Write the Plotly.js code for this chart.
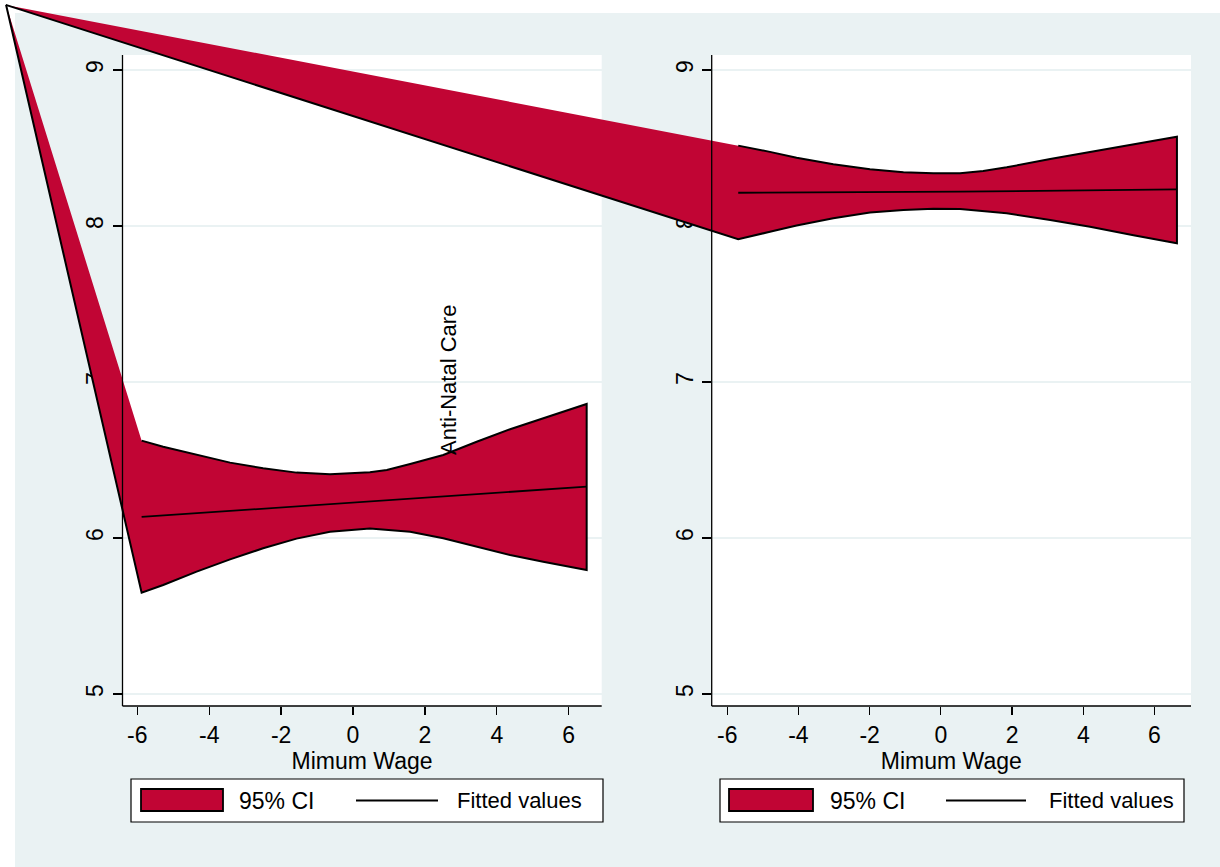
<!DOCTYPE html>
<html><head><meta charset="utf-8">
<script src="https://cdn.plot.ly/plotly-3.0.1.min.js"></script>
<style>html,body{margin:0;padding:0;background:#fff;overflow:hidden}</style>
</head><body><div id="chart" style="width:1220px;height:867px"></div>
<script>
// ---------------- data ----------------
const xTickVals = [-6, -4, -2, 0, 2, 4, 6];
const xTickLabels = ["-6", "-4", "-2", "0", "2", "4", "6"];
const yTickVals = [5, 6, 7, 8, 9];
const yTickLabels = ["5", "6", "7", "8", "9"];
const legendLabels = ["95% CI", "Fitted values"];
const xTitle = "Mimum Wage";
const yTitle = "Anti-Natal Care";

// left panel
const leftCiX     = [-5.88, -5.28, -4.35, -3.42, -2.50, -1.57, -0.64, 0.47, 0.94, 1.59, 2.51, 3.44, 4.37, 5.29, 6.50];
const leftCiUpper = [6.624, 6.585, 6.532, 6.483, 6.447, 6.419, 6.408, 6.421, 6.436, 6.474, 6.532, 6.617, 6.697, 6.767, 6.859];
const leftCiLower = [5.649, 5.699, 5.784, 5.863, 5.934, 5.996, 6.040, 6.060, 6.053, 6.040, 5.998, 5.944, 5.891, 5.848, 5.795];
const leftFitX = [-5.88, 6.50];
const leftFitY = [6.135, 6.329];
const leftStrayX = [-9.65];   // stray polygon vertex far outside the plot region
const leftStrayY = [9.417];

// right panel
const rightCiX     = [-5.69, -4.80, -4.05, -3.02, -1.99, -1.05, -0.21, 0.54, 1.19, 1.85, 3.07, 4.19, 5.41, 6.63];
const rightCiUpper = [8.515, 8.475, 8.438, 8.396, 8.363, 8.344, 8.338, 8.338, 8.352, 8.376, 8.429, 8.476, 8.524, 8.572];
const rightCiLower = [7.915, 7.963, 8.003, 8.050, 8.087, 8.103, 8.110, 8.109, 8.096, 8.081, 8.038, 7.995, 7.940, 7.889];
const rightFitX = [-5.69, 0.54, 6.63];
const rightFitY = [8.213, 8.220, 8.235];
const rightStrayX = [-26.26];
const rightStrayY = [9.417];

// ---------------- layout / styling ----------------
const W = 1220, H = 867;
const FONT = 'Liberation Sans, Arial, Helvetica, sans-serif';
const RED = '#C10534', BG = '#EAF2F3', INK = '#000000';
const PX = p => p / W, PY = p => 1 - p / H;

const geom = [
  {l: 122.5, r: 601.7, t: 55, b: 706, xr: [-6.412, 6.918], yr: [4.923, 9.096]},
  {l: 711.7, r: 1191,  t: 55, b: 706, xr: [-6.435, 7.025], yr: [4.923, 9.096]}
];
const legendGeom = [
  {box: [131, 603], key: [141, 223], t1: 237, ln: [356, 438], t2: 455},
  {box: [720, 1184], key: [729, 813], t1: 828, ln: [946, 1026], t2: 1047}
];
const series = [
  {ciX: leftCiX, up: leftCiUpper, lo: leftCiLower, fx: leftFitX, fy: leftFitY, sx: leftStrayX, sy: leftStrayY},
  {ciX: rightCiX, up: rightCiUpper, lo: rightCiLower, fx: rightFitX, fy: rightFitY, sx: rightStrayX, sy: rightStrayY}
];

function fullRange(r, d0, d1) {
  const span = (r[1] - r[0]) / (d1 - d0);
  return [r[0] - d0 * span, r[0] + (1 - d0) * span];
}

const layout = {
  width: W, height: H,
  margin: {l: 0, r: 0, t: 0, b: 0, pad: 0},
  paper_bgcolor: '#ffffff', plot_bgcolor: 'rgba(0,0,0,0)',
  showlegend: false,
  font: {family: FONT, size: 22, color: INK},
  shapes: [], annotations: []
};
const traces = [];

// outer light background
layout.shapes.push({type: 'rect', xref: 'paper', yref: 'paper', x0: PX(15), x1: 1, y0: 0, y1: PY(13),
  fillcolor: BG, line: {width: 0}, layer: 'below'});

// panel axes (drawn first: grid, ticks, labels)
geom.forEach((g, i) => {
  const pn = i === 0 ? '' : '2';
  const xd = [PX(g.l), PX(g.r)], yd = [PY(g.b), PY(g.t)];
  layout['xaxis' + pn] = {
    domain: xd, range: g.xr, anchor: 'y' + pn, fixedrange: true, automargin: false,
    tickmode: 'array', tickvals: xTickVals, ticktext: xTickLabels,
    showgrid: false, zeroline: false, showline: false,
    ticks: 'outside', ticklen: 8, tickwidth: 1.3, tickcolor: INK,
    ticklabelstandoff: 0,
    tickfont: {size: 23, family: FONT, color: INK},
    title: {text: xTitle, font: {size: 23, family: FONT, color: INK}, standoff: 0}
  };
  layout['yaxis' + pn] = {
    domain: yd, range: g.yr, anchor: 'x' + pn, fixedrange: true, automargin: false,
    tickmode: 'array', tickvals: yTickVals, ticktext: yTickLabels, tickangle: -90,
    showgrid: true, gridcolor: BG, gridwidth: 1.5, zeroline: false, showline: false,
    ticks: 'outside', ticklen: 9, tickwidth: 1.3, tickcolor: INK,
    tickfont: {size: 23, family: FONT, color: INK}
  };
  traces.push({x: [], y: [], type: 'scatter', mode: 'lines', xaxis: 'x' + pn, yaxis: 'y' + pn,
    hoverinfo: 'skip', showlegend: false});
  // white plot region
  layout.shapes.push({type: 'rect', xref: 'paper', yref: 'paper', x0: xd[0], x1: xd[1], y0: yd[0], y1: yd[1],
    fillcolor: '#ffffff', line: {width: 0}, layer: 'below'});
  // axis lines on top of everything
  layout.shapes.push({type: 'line', xref: 'paper', yref: 'paper', x0: xd[0], x1: xd[0], y0: yd[0], y1: yd[1],
    line: {color: INK, width: 1.3}, layer: 'above'});
  layout.shapes.push({type: 'line', xref: 'paper', yref: 'paper', x0: xd[0], x1: xd[1], y0: yd[0], y1: yd[0],
    line: {color: INK, width: 1.3}, layer: 'above'});
});

// full-figure overlay axes, same data scale as each panel (unclipped drawing)
geom.forEach((g, i) => {
  const on = String(i + 3);
  const xd = [PX(g.l), PX(g.r)], yd = [PY(g.b), PY(g.t)];
  layout['xaxis' + on] = {domain: [0, 1], range: fullRange(g.xr, xd[0], xd[1]), anchor: 'y' + on,
    visible: false, fixedrange: true, showgrid: false, zeroline: false};
  layout['yaxis' + on] = {domain: [0, 1], range: fullRange(g.yr, yd[0], yd[1]), anchor: 'x' + on,
    visible: false, fixedrange: true, showgrid: false, zeroline: false};
  const s = series[i];
  const px = s.sx.concat(s.ciX, s.ciX.slice().reverse());
  const py = s.sy.concat(s.lo, s.up.slice().reverse());
  traces.push({x: px, y: py, type: 'scatter', mode: 'lines', fill: 'toself', fillcolor: RED,
    line: {width: 0, color: RED}, xaxis: 'x' + on, yaxis: 'y' + on, hoverinfo: 'skip', showlegend: false,
    name: legendLabels[0]});
  traces.push({x: px, y: py, type: 'scatter', mode: 'lines', line: {width: 2, color: INK},
    xaxis: 'x' + on, yaxis: 'y' + on, hoverinfo: 'skip', showlegend: false});
  traces.push({x: s.fx, y: s.fy, type: 'scatter', mode: 'lines', line: {width: 1.8, color: INK},
    xaxis: 'x' + on, yaxis: 'y' + on, hoverinfo: 'skip', showlegend: false, name: legendLabels[1]});
});

// hand-made Stata-style legends
legendGeom.forEach(lg => {
  const yTop = 779, yBot = 822, kTop = 789, kBot = 811, yMid = 800.5;
  layout.shapes.push({type: 'rect', xref: 'paper', yref: 'paper', x0: PX(lg.box[0]), x1: PX(lg.box[1]),
    y0: PY(yBot), y1: PY(yTop), fillcolor: '#ffffff', line: {color: INK, width: 1.2}, layer: 'above'});
  layout.shapes.push({type: 'rect', xref: 'paper', yref: 'paper', x0: PX(lg.key[0]), x1: PX(lg.key[1]),
    y0: PY(kBot), y1: PY(kTop), fillcolor: RED, line: {color: INK, width: 1.8}, layer: 'above'});
  layout.shapes.push({type: 'line', xref: 'paper', yref: 'paper', x0: PX(lg.ln[0]), x1: PX(lg.ln[1]),
    y0: PY(yMid), y1: PY(yMid), line: {color: INK, width: 1.8}, layer: 'above'});
  layout.annotations.push({text: legendLabels[0], xref: 'paper', yref: 'paper', x: PX(lg.t1), y: PY(yMid),
    xanchor: 'left', yanchor: 'middle', showarrow: false, font: {size: 23, family: FONT, color: INK}});
  layout.annotations.push({text: legendLabels[1], xref: 'paper', yref: 'paper', x: PX(lg.t2), y: PY(yMid),
    xanchor: 'left', yanchor: 'middle', showarrow: false, font: {size: 22, family: FONT, color: INK}});
});

// misplaced y-axis title, as in the reference
layout.annotations.push({text: yTitle, xref: 'paper', yref: 'paper', x: PX(448), y: PY(380),
  textangle: -90, xanchor: 'center', yanchor: 'middle', showarrow: false,
  font: {size: 22, family: FONT, color: INK}});

Plotly.newPlot('chart', traces, layout, {staticPlot: true, displayModeBar: false});
</script>
</body></html>
